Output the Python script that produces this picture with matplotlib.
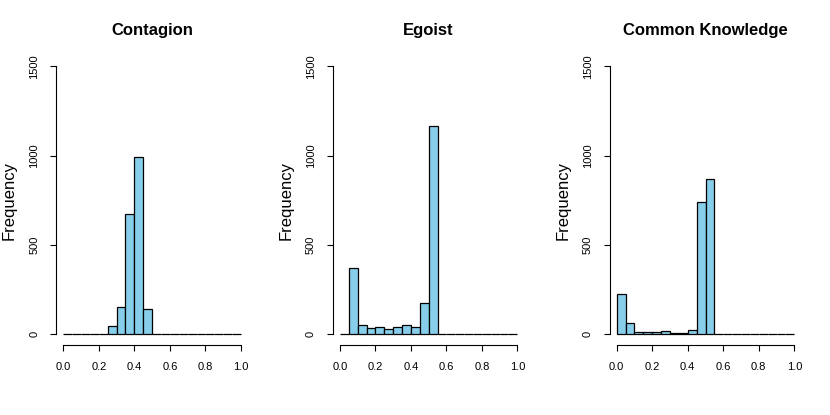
import matplotlib
matplotlib.use('Agg')
import matplotlib.pyplot as plt
import numpy as np

# histogram counts per 0.05-wide bin on [0, 1]
bin_edges = [0.00, 0.05, 0.10, 0.15, 0.20, 0.25, 0.30, 0.35, 0.40, 0.45, 0.50,
             0.55, 0.60, 0.65, 0.70, 0.75, 0.80, 0.85, 0.90, 0.95, 1.00]

contagion_counts = [0, 0, 0, 0, 0, 45, 150, 672, 992, 140,
                    2, 0, 0, 0, 0, 0, 0, 0, 0, 0]
egoist_counts = [0, 368, 49, 32, 37, 28, 37, 52, 39, 172,
                 1163, 0, 0, 0, 0, 0, 0, 0, 0, 0]
common_counts = [222, 60, 11, 13, 13, 17, 5, 8, 24, 741,
                 866, 0, 0, 0, 0, 0, 0, 0, 0, 0]

titles = ['Contagion', 'Egoist', 'Common Knowledge']
x_ticks = [0.0, 0.2, 0.4, 0.6, 0.8, 1.0]
y_ticks = [0, 500, 1000, 1500]

# axes boxes in pixels (left, right) on an 830x415 canvas
W, H = 830, 415
panel_px = [(56.2, 248.1), (332.9, 524.4), (609.6, 801.4)]
top_px, bottom_px = 55.6, 344.7

plt.rcParams['font.family'] = ['Liberation Sans', 'DejaVu Sans']


def draw_hist(ax, counts, title):
    edges = np.array(bin_edges)
    ax.bar(edges[:-1], counts, width=np.diff(edges), align='edge',
           color='#87CEEB', edgecolor='black', linewidth=0.9)

    ax.set_xlim(-0.04, 1.04)
    ax.set_ylim(-60, 1560)

    for side in ['top', 'right']:
        ax.spines[side].set_visible(False)
    ax.spines['left'].set_bounds(0, 1500)
    ax.spines['bottom'].set_bounds(0, 1)
    for side in ['left', 'bottom']:
        ax.spines[side].set_linewidth(0.8)

    ax.set_xticks(x_ticks)
    ax.set_xticklabels(['{:.1f}'.format(t) for t in x_ticks])
    ax.set_yticks(y_ticks)
    ax.set_yticklabels([str(t) for t in y_ticks], rotation=90, va='center')
    ax.tick_params(axis='both', direction='out', length=4.2, width=0.8,
                   labelsize=8, pad=8)

    ax.set_title(title, fontsize=12, fontweight='bold', pad=15)
    ax.set_ylabel('Frequency', fontsize=12)
    ax.yaxis.set_label_coords(-0.205, 0.5)


def main():
    fig = plt.figure(figsize=(W / 100, H / 100), dpi=100)
    all_counts = [contagion_counts, egoist_counts, common_counts]

    for (left, right), counts, title in zip(panel_px, all_counts, titles):
        ax = fig.add_axes([left / W, 1 - bottom_px / H,
                           (right - left) / W, (bottom_px - top_px) / H])
        draw_hist(ax, counts, title)

    fig.savefig('out.png', dpi=100)


if __name__ == '__main__':
    main()
